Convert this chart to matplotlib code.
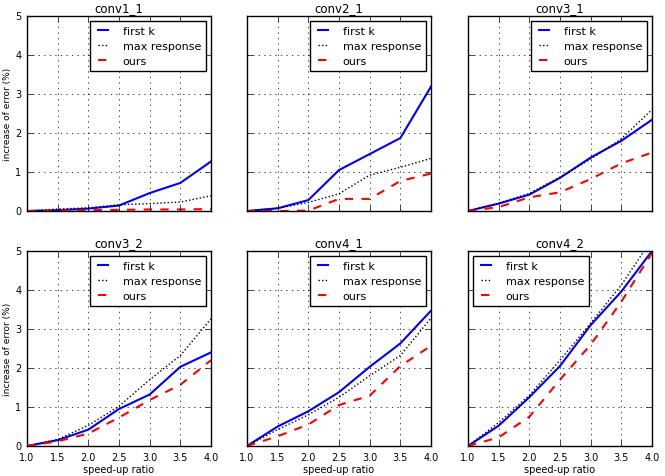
import matplotlib
matplotlib.use('Agg')
import matplotlib.pyplot as plt

plt.style.use('classic')

# speed-up ratios (x axis)
speedup = [1.0, 1.5, 2.0, 2.5, 3.0, 3.5, 4.0]

titles = ['conv1_1', 'conv2_1', 'conv3_1', 'conv3_2', 'conv4_1', 'conv4_2']

# increase of error (%) for each layer
first_k = [
    [0.0, 0.02, 0.06, 0.14, 0.46, 0.72, 1.27],
    [0.0, 0.07, 0.28, 1.05, 1.46, 1.87, 3.19],
    [0.0, 0.19, 0.42, 0.85, 1.37, 1.80, 2.34],
    [0.0, 0.15, 0.42, 0.95, 1.32, 2.03, 2.40],
    [0.0, 0.50, 0.89, 1.38, 2.03, 2.63, 3.47],
    [0.0, 0.52, 1.25, 2.05, 3.10, 3.96, 5.00],
]
max_response = [
    [0.0, 0.05, 0.08, 0.16, 0.19, 0.23, 0.39],
    [0.0, 0.07, 0.22, 0.44, 0.92, 1.12, 1.35],
    [0.0, 0.20, 0.45, 0.87, 1.33, 1.85, 2.60],
    [0.0, 0.17, 0.53, 1.02, 1.70, 2.32, 3.26],
    [0.0, 0.42, 0.80, 1.25, 1.80, 2.32, 3.28],
    [0.0, 0.60, 1.30, 2.20, 3.15, 4.13, 5.30],
]
ours = [
    [0.0, 0.01, 0.02, 0.03, 0.04, 0.04, 0.05],
    [0.0, 0.00, 0.01, 0.31, 0.31, 0.77, 0.96],
    [0.0, 0.10, 0.35, 0.48, 0.82, 1.22, 1.50],
    [0.0, 0.12, 0.32, 0.73, 1.18, 1.57, 2.20],
    [0.0, 0.25, 0.55, 1.05, 1.29, 2.05, 2.57],
    [0.0, 0.22, 0.75, 1.70, 2.60, 3.70, 4.95],
]

fig = plt.figure(figsize=(6.65, 4.77), dpi=100, facecolor='white')

lefts = [27 / 665, 247 / 665, 468 / 665]
bottoms = [1 - 212 / 477, 1 - 447 / 477]
w, h = 184 / 665, 195 / 477

for i in range(6):
    r, c = divmod(i, 3)
    ax = fig.add_axes([lefts[c], bottoms[r], w, h])
    ax.plot(speedup, first_k[i], 'b-', lw=1.5, label='first k')
    ax.plot(speedup, max_response[i], 'k:', lw=1.0, dashes=(1, 1.6),
            label='max response')
    ax.plot(speedup, ours[i], 'r--', lw=1.5, label='ours')
    ax.set_xlim(1, 4)
    ax.set_ylim(0, 5)
    ax.set_xticks([1.0, 1.5, 2.0, 2.5, 3.0, 3.5, 4.0])
    ax.set_yticks([0, 1, 2, 3, 4, 5])
    ax.grid(True)
    ax.tick_params(labelsize=7)
    ax.set_title(titles[i], fontsize=8.5, y=0.99)
    if c != 0:
        ax.set_yticklabels([])
    else:
        ax.set_ylabel('increase of error (%)', fontsize=6.5, labelpad=2)
    if r == 0:
        ax.set_xticklabels([])
    else:
        ax.set_xlabel('speed-up ratio', fontsize=7, labelpad=2)
    loc = 'upper left' if i == 5 else 'upper right'
    ax.legend(loc=loc, fontsize=8, handlelength=1.5, handletextpad=1.0,
              borderpad=0.45, labelspacing=0.45, borderaxespad=0.45)

fig.savefig('out.png', dpi=100, facecolor='white')
